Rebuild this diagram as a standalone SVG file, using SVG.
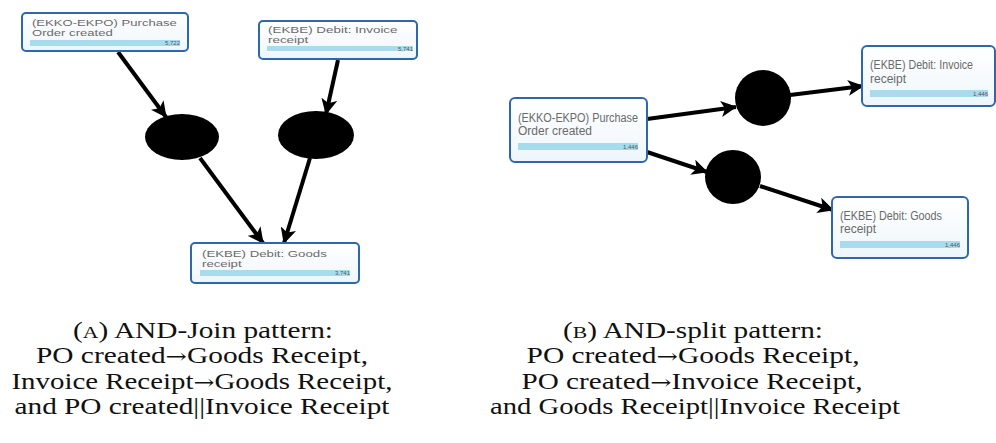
<svg xmlns="http://www.w3.org/2000/svg" width="996" height="443" viewBox="0 0 996 443">
<defs>
<linearGradient id="nodeFill" x1="0" y1="0" x2="0" y2="1">
<stop offset="0" stop-color="#ffffff"/>
<stop offset="1" stop-color="#eef6fb"/>
</linearGradient>
<marker id="arr" viewBox="0 0 16 16" refX="15" refY="8" markerWidth="16" markerHeight="16" markerUnits="userSpaceOnUse" orient="auto">
<path d="M0,0 L16,8 L0,16 L4,8 z" fill="#000"/>
</marker>
<style>
.box{fill:url(#nodeFill);stroke:#2f67ad;stroke-width:2}
.bar{fill:#a9dbee}
.lbl{font-family:"Liberation Sans",Arial,sans-serif;font-size:9.5px;fill:#6a6a6a}
.lblb{font-family:"Liberation Sans",Arial,sans-serif;font-size:12px;fill:#6a6a6a}
.num{font-family:"Liberation Sans",Arial,sans-serif;font-size:6px;fill:#555;text-anchor:end}
.gate{fill:#000}
.edge{stroke:#000;stroke-width:4;fill:none;marker-end:url(#arr)}
.cap{font-family:"Liberation Serif","Times New Roman",serif;font-size:23px;fill:#111;text-anchor:middle}
.ar{font-family:"DejaVu Serif",serif;font-size:20px}
</style>
</defs>
<rect width="996" height="443" fill="#ffffff"/>

<g id="connectors">
<line class="edge" x1="118" y1="52" x2="166" y2="117"/>
<line class="edge" x1="338" y1="60" x2="326" y2="114"/>
<line class="edge" x1="200" y1="158" x2="263" y2="243"/>
<line class="edge" x1="310" y1="158" x2="284" y2="243"/>
<line class="edge" x1="647" y1="119" x2="736" y2="107"/>
<line class="edge" x1="790" y1="95" x2="863" y2="86"/>
<line class="edge" x1="647" y1="152" x2="707" y2="172"/>
<line class="edge" x1="760" y1="186" x2="833" y2="210"/>
</g>

<g id="a-po">
<rect class="box" x="22" y="13" width="166" height="38" rx="4"/>
<g transform="translate(32,26) scale(1.38,1)">
<text class="lbl" x="0" y="0">(EKKO-EKPO) Purchase</text>
<text class="lbl" x="0" y="10">Order created</text>
</g>
<rect class="bar" x="30" y="40" width="150" height="6"/>
<text class="num" x="180" y="45">5,722</text>
</g>
<g id="a-inv">
<rect class="box" x="259" y="21" width="158" height="38" rx="4"/>
<g transform="translate(268,33) scale(1.41,1)">
<text class="lbl" x="0" y="0">(EKBE) Debit: Invoice</text>
<text class="lbl" x="0" y="10">receipt</text>
</g>
<rect class="bar" x="267" y="46" width="146" height="5"/>
<text class="num" x="413" y="51">5,741</text>
</g>
<g id="a-gr">
<rect class="box" x="191" y="243" width="168" height="40" rx="4"/>
<g transform="translate(202,257) scale(1.39,1)">
<text class="lbl" x="0" y="0">(EKBE) Debit: Goods</text>
<text class="lbl" x="0" y="10">receipt</text>
</g>
<rect class="bar" x="200" y="270" width="150" height="6"/>
<text class="num" x="350" y="275">3,741</text>
</g>
<g id="a-and1"><ellipse class="gate" cx="182" cy="137" rx="37" ry="23"/></g>
<g id="a-and2"><ellipse class="gate" cx="316" cy="135" rx="38" ry="24"/></g>

<g id="b-po">
<rect class="box" x="510" y="98" width="137" height="64" rx="5"/>
<text class="lblb" x="518" y="122" textLength="120" lengthAdjust="spacingAndGlyphs">(EKKO-EKPO) Purchase</text>
<text class="lblb" x="518" y="135">Order created</text>
<rect class="bar" x="518" y="143" width="120" height="7"/>
<text class="num" x="638" y="149">1,446</text>
</g>
<g id="b-inv">
<rect class="box" x="862" y="46" width="133" height="60" rx="5"/>
<text class="lblb" x="870" y="69" textLength="103" lengthAdjust="spacingAndGlyphs">(EKBE) Debit: Invoice</text>
<text class="lblb" x="870" y="83">receipt</text>
<rect class="bar" x="870" y="90" width="118" height="7"/>
<text class="num" x="988" y="96">1,446</text>
</g>
<g id="b-gr">
<rect class="box" x="832" y="197" width="136" height="61" rx="5"/>
<text class="lblb" x="840" y="220" textLength="102" lengthAdjust="spacingAndGlyphs">(EKBE) Debit: Goods</text>
<text class="lblb" x="840" y="233">receipt</text>
<rect class="bar" x="840" y="241" width="120" height="7"/>
<text class="num" x="960" y="247">1,446</text>
</g>
<g id="b-and1"><ellipse class="gate" cx="763" cy="98" rx="28" ry="28"/></g>
<g id="b-and2"><ellipse class="gate" cx="733" cy="177" rx="28" ry="27"/></g>

<g id="caption-a">
<text class="cap" x="203" y="338" textLength="260" lengthAdjust="spacingAndGlyphs">(<tspan font-size="17">A</tspan>) AND-Join pattern:</text>
<text class="cap" x="202" y="363" textLength="332" lengthAdjust="spacingAndGlyphs">PO created<tspan class="ar">→</tspan>Goods Receipt,</text>
<text class="cap" x="202" y="389" textLength="381" lengthAdjust="spacingAndGlyphs">Invoice Receipt<tspan class="ar">→</tspan>Goods Receipt,</text>
<text class="cap" x="202" y="414" textLength="375" lengthAdjust="spacingAndGlyphs">and PO created||Invoice Receipt</text>
</g>
<g id="caption-b">
<text class="cap" x="693" y="338" textLength="260" lengthAdjust="spacingAndGlyphs">(<tspan font-size="17">B</tspan>) AND-split pattern:</text>
<text class="cap" x="693" y="363" textLength="333" lengthAdjust="spacingAndGlyphs">PO created<tspan class="ar">→</tspan>Goods Receipt,</text>
<text class="cap" x="692" y="389" textLength="341" lengthAdjust="spacingAndGlyphs">PO created<tspan class="ar">→</tspan>Invoice Receipt,</text>
<text class="cap" x="695" y="414" textLength="410" lengthAdjust="spacingAndGlyphs">and Goods Receipt||Invoice Receipt</text>
</g>
</svg>
